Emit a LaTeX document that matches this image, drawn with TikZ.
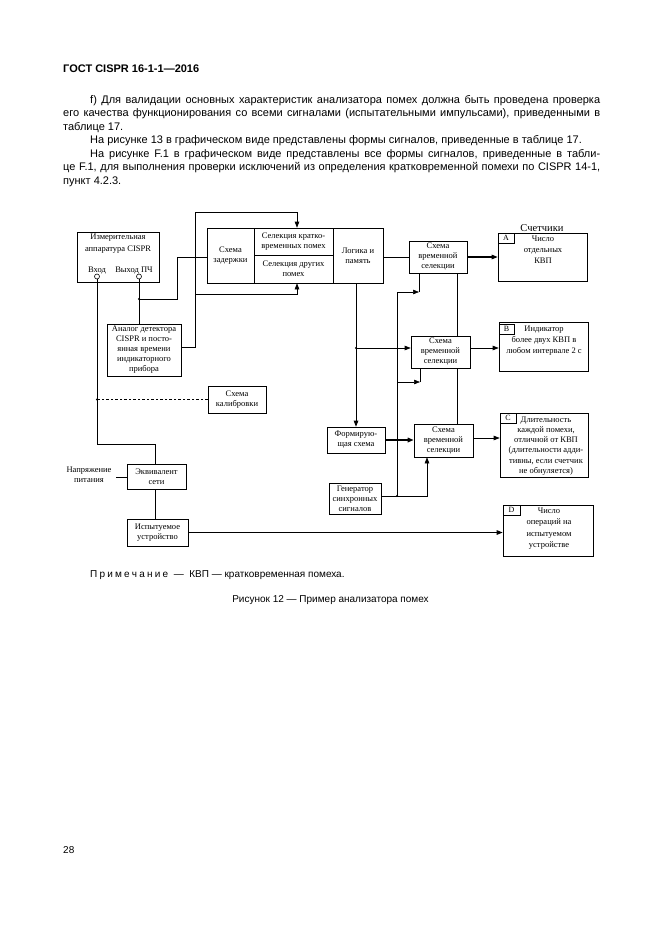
\documentclass[tikz,border=0pt]{standalone}
\usepackage{fontspec}
\setmainfont{Liberation Sans}
\newfontfamily\dserif{Liberation Serif}
\usetikzlibrary{arrows.meta}
\newcommand\dfnt{\dserif\fontsize{8.5}{10}\selectfont}
\newcommand\bodyfnt{\fontsize{11}{13}\selectfont}
\tikzset{
  bx/.style={draw, line width=0.6pt, inner sep=1pt, align=center, font=\dfnt, fill=white},
  lbl/.style={draw, line width=0.6pt, inner sep=0pt, font=\dserif\fontsize{8}{8}\selectfont, anchor=north west},
  ln/.style={line width=0.6pt},
  arr/.style={line width=0.6pt, -{Triangle[length=6pt,width=4.5pt]}},
  dotn/.style={circle, fill, inner sep=0pt, minimum size=2.2pt},
  pinn/.style={circle, draw, fill=white, inner sep=0pt, minimum size=5pt, line width=0.6pt},
  txt/.style={align=center, font=\dfnt, inner sep=0pt},
  bline/.style={anchor=base west, inner sep=0pt, font=\bodyfnt},
}
\begin{document}
\begin{tikzpicture}[x=1pt,y=-1pt]
\useasboundingbox[fill=white] (0,0) rectangle (661,935);

% ---- page text ----
\node[anchor=base west, inner sep=0pt, font=\bfseries\fontsize{11}{13}\selectfont] (hdr) at (63,72) {ГОСТ CISPR 16-1-1—2016};
\node[bline] (l1) at (90,103.5) {\makebox[510pt][s]{f) Для валидации основных характеристик анализатора помех должна быть проведена проверка}};
\node[bline] (l2) at (63,116.9) {\makebox[537pt][s]{его качества функционирования со всеми сигналами (испытательными импульсами), приведенными в}};
\node[bline] (l3) at (63,130.3) {таблице 17.};
\node[bline] (l4) at (90,143.7) {На рисунке 13 в графическом виде представлены формы сигналов, приведенные в таблице 17.};
\node[bline] (l5) at (90,157.1) {\makebox[510pt][s]{На рисунке F.1 в графическом виде представлены все формы сигналов, приведенные в табли-}};
\node[bline] (l6) at (63,170.5) {\makebox[537pt][s]{це F.1, для выполнения проверки исключений из определения кратковременной помехи по CISPR 14-1,}};
\node[bline] (l7) at (63,184.5) {пункт 4.2.3.};

\node[anchor=base west, inner sep=0pt, font=\fontsize{10}{12}\selectfont] (note) at (90,577) {П\hspace{2.2pt}р\hspace{2.2pt}и\hspace{2.2pt}м\hspace{2.2pt}е\hspace{2.2pt}ч\hspace{2.2pt}а\hspace{2.2pt}н\hspace{2.2pt}и\hspace{2.2pt}е\ \ — \ КВП — кратковременная помеха.};
\node[anchor=base, inner sep=0pt, font=\fontsize{10}{12}\selectfont] (cap) at (330.5,602) {Рисунок 12 — Пример анализатора помех};
\node[anchor=base west, inner sep=0pt, font=\fontsize{10}{12}\selectfont] (pg) at (63,853.5) {28};

% ---- boxes ----
\node[bx, minimum width=82pt, minimum height=50pt] (meas) at (118,257) {};
\node[txt] (meast) at (118,243.5) {Измерительная\\[2pt]аппаратура CISPR};
\node[txt] (vin) at (97,270.5) {Вход};
\node[txt] (vout) at (134,270.5) {Выход ПЧ};
\node[pinn] (pin) at (97,276.5) {};
\node[pinn] (pout) at (139,276.5) {};

\node[bx, minimum width=74pt, minimum height=52pt] (analog) at (144,350) {Аналог детектора\\CISPR и посто-\\янная времени\\индикаторного\\прибора};

\node[bx, minimum width=47pt, minimum height=55pt] (delay) at (230.5,255.5) {Схема\\задержки};
\node[bx, minimum width=79pt, minimum height=27pt] (selA) at (293.5,241.5) {Селекция кратко-\\временных помех};
\node[bx, minimum width=79pt, minimum height=28pt] (selB) at (293.5,269) {Селекция других\\помех};
\node[bx, minimum width=50pt, minimum height=55pt] (logic) at (358,255.5) {Логика и\\память};

\node[bx, minimum width=58pt, minimum height=32pt] (ts1) at (438,257) {Схема\\временной\\селекции};
\node[bx, minimum width=59pt, minimum height=32pt] (ts2) at (440.5,352) {Схема\\временной\\селекции};
\node[bx, minimum width=59pt, minimum height=33pt] (ts3) at (443.5,440.5) {Схема\\временной\\селекции};

\node[bx, minimum width=58pt, minimum height=26pt] (form) at (356,440) {Формирую-\\щая схема};
\node[bx, minimum width=52pt, minimum height=31pt] (gen) at (355,498.5) {Генератор\\синхронных\\сигналов};
\node[bx, minimum width=58pt, minimum height=27pt] (calib) at (237,399.5) {Схема\\калибровки};
\node[bx, minimum width=59pt, minimum height=25pt] (equiv) at (156.5,476.5) {Эквивалент\\сети};
\node[bx, minimum width=61pt, minimum height=27pt] (dut) at (157.5,532.5) {Испытуемое\\устройство};
\node[txt] (pwr) at (89,475) {Напряжение\\питания};

% counters
\node[inner sep=0pt, font=\dserif\fontsize{10.5}{12}\selectfont] (cnt) at (542,228) {Счетчики};
\node[bx, minimum width=89pt, minimum height=48pt] (A) at (542.5,257) {};
\node[lbl, minimum width=16pt, minimum height=10pt] (la) at (A.north west) {A};
\node[txt, font=\dserif\fontsize{8.5}{11}\selectfont] (At) at (543,250) {Число\\отдельных\\КВП};

\node[bx, minimum width=89pt, minimum height=49pt] (B) at (543.5,346.5) {};
\node[lbl, minimum width=15pt, minimum height=10pt] (lb) at ([yshift=-2pt]B.north west) {B};
\node[txt, font=\dserif\fontsize{8.5}{11}\selectfont] (Bt) at (544,340.5) {Индикатор\\более двух КВП в\\любом интервале 2 с};

\node[bx, minimum width=88pt, minimum height=64pt] (C) at (544,445) {};
\node[lbl, minimum width=16pt, minimum height=10pt] (lc) at (C.north west) {C};
\node[txt, font=\dserif\fontsize{8.5}{10.2}\selectfont] (Ct) at (546,446) {Длительность\\каждой помехи,\\отличной от КВП\\(длительности адди-\\тивны, если счетчик\\не обнуляется)};

\node[bx, minimum width=90pt, minimum height=51pt] (D) at (548,530.5) {};
\node[lbl, minimum width=17pt, minimum height=10pt] (ld) at (D.north west) {D};
\node[txt, font=\dserif\fontsize{8.5}{11.5}\selectfont] (Dt) at (549,528.5) {Число\\операций на\\испытуемом\\устройстве};

% ---- connectors ----
% Вход -> эквивалент сети
\coordinate (v1) at (97,444);
\coordinate (v2) at (155,444);
\draw[ln] (pin) -- (v1) -- (v2) -- (v2 |- equiv.north);
\draw[ln] (equiv.south -| v2) -- (dut.north -| v2);
% calibration (dashed)
\coordinate (dc) at (97,399.5);
\draw[ln, dash pattern=on 2.5pt off 2pt] (calib.west) -- (dc);
\node[dotn] at (dc) {};
% power supply
\coordinate (p1) at (116,477);
\draw[ln] (p1) -- (p1 -| equiv.west);
% Выход ПЧ
\coordinate (j1) at (139,299);
\coordinate (b1) at (177,299);
\coordinate (b2) at (177,257);
\draw[ln] (pout) -- (pout |- analog.north);
\draw[ln] (j1) -- (b1) -- (b2) -- (b2 -| delay.west);
\node[dotn] at (j1) {};
% analog -> selections
\coordinate (a1) at (195,347);
\coordinate (a2) at (195,212);
\coordinate (a3) at (297,212);
\coordinate (a4) at (195,294);
\coordinate (a5) at (297,294);
\draw[arr] (a1 -| analog.east) -- (a1) -- (a2) -- (a3) -- (a3 |- selA.north);
\draw[arr] (a4) -- (a5) -- (a5 |- selB.south);
% logic -> ts1 -> A
\draw[ln] (logic.east |- ts1.west) -- (ts1.west);
\draw[arr, line width=1.1pt] (ts1.east) -- (ts1.east -| A.west);
% logic down
\coordinate (m1) at (356,348);
\draw[arr, line width=0.8pt] (logic.south -| m1) -- (form.north -| m1);
\draw[arr] (m1) -- (m1 -| ts2.west);
\node[dotn] at (m1) {};
\draw[arr] (ts2.east |- m1) -- (m1 -| B.west);
% sync lines
\coordinate (f1) at (397,292);
\coordinate (f2) at (419,292);
\coordinate (f3) at (397,382);
\coordinate (f4) at (420,382);
\coordinate (g1) at (397,496);
\coordinate (g2) at (427,496);
\draw[ln] (f1) -- (g1);
\draw[arr] (f1) -- (f2);
\draw[ln] (f2) -- (f2 |- ts1.south);
\draw[arr] (f3) -- (f4);
\draw[ln] (f4) -- (f4 |- ts2.south);
\draw[arr] (gen.east |- g1) -- (g2) -- (g2 |- ts3.south);
\node[dotn] at (g1) {};
% chain at x=457
\coordinate (k) at (457,0);
\draw[ln] (ts1.south -| k) -- (ts2.north -| k);
\draw[ln] (ts2.south -| k) -- (ts3.north -| k);
% form -> ts3 -> C
\draw[arr, line width=1.6pt] (form.east) -- (form.east -| ts3.west);
\draw[arr] (ts3.east |- 0,438) -- (C.west |- 0,438);
% dut -> D
\draw[arr, line width=1.2pt] (dut.east) -- (dut.east -| D.west);
\end{tikzpicture}
\end{document}
